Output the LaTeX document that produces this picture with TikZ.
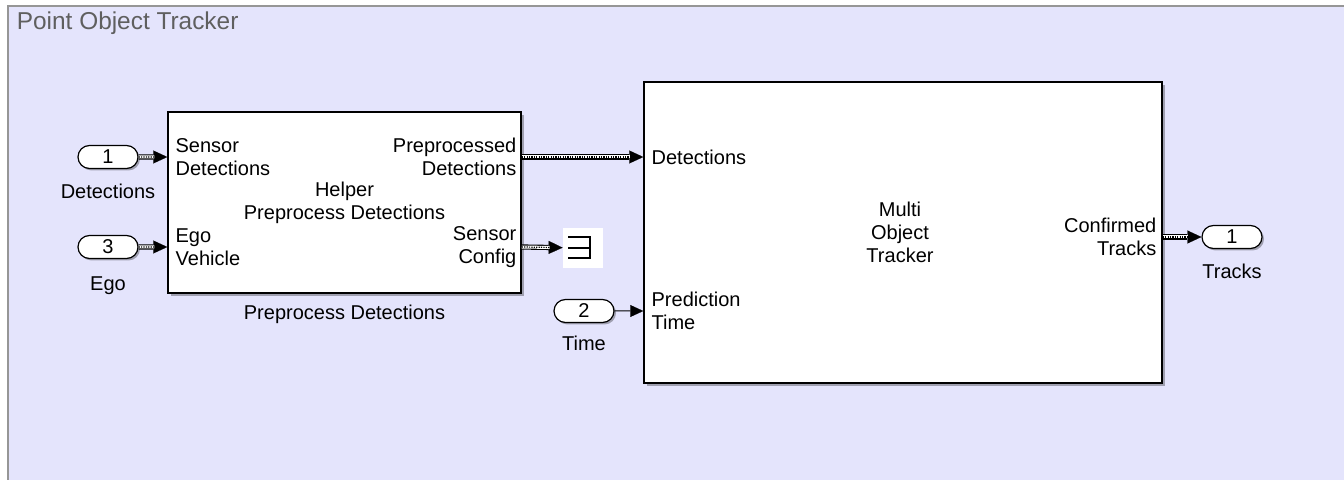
\documentclass[tikz,border=0pt]{standalone}
\usepackage{fontspec}
\setmainfont{Liberation Sans}
\usepackage{xcolor}
\usepackage{tikz}
\usetikzlibrary{arrows.meta, positioning, calc, shapes.misc, shadows}
\definecolor{fundo}{RGB}{228,228,252}
\definecolor{borda}{RGB}{150,150,150}
\definecolor{titulo}{RGB}{95,95,95}

\begin{document}
\begin{tikzpicture}[x=0.5pt, y=-0.5pt,
        every node/.style={align=center, inner sep=0pt, font=\fontsize{10}{11.5}\selectfont},
        bloco/.style={draw, fill=white, line width=0.75pt, drop shadow={shadow xshift=1.5pt, shadow yshift=-1.5pt, fill=black, opacity=0.3}},
        porta/.style={draw, fill=white, rounded rectangle, minimum width=30pt, minimum height=11.5pt, line width=0.6pt, drop shadow={shadow xshift=1pt, shadow yshift=-1pt, fill=black, opacity=0.3}},
        seta/.style={-{Triangle[length=6.5pt, width=6pt, line width=0.1pt]}, line width=0.5pt},
        barra/.style={-{Triangle[length=7pt, width=6.5pt, line width=0.1pt]}, line width=2.6pt,
            postaction={draw=white, -, line width=1.5pt, shorten >=6.5pt},
            postaction={draw=black, -, line width=0.6pt, dash pattern=on 0.6pt off 0.6pt, shorten >=6.5pt}}
    ]
        \useasboundingbox (0,0) rectangle (1344,480);
        \clip (0,0) rectangle (1344,480);
        \fill[white] (0,0) rectangle (1344,480);
        \draw[draw=borda, fill=fundo, line width=1.2pt] (8,6) rectangle (1370,500);
        \node[anchor=west, text=titulo, font=\fontsize{12.2}{14}\selectfont] (titulo) at (16.5,23) {Point Object Tracker};

        \node[bloco, minimum width=176.5pt, minimum height=90.5pt] (pre) at (344.5,202.5) {};
        \node[bloco, minimum width=259pt, minimum height=150.5pt] (mot) at (903,232.5) {};

        \node[porta] (in1) at (108,157) {1};
        \node[porta] (in3) at (108,247) {3};
        \node[porta] (in2) at (584,311) {2};
        \node[porta] (out1) at (1232,237) {1};
        \node[below=7.5pt of in1] (nome_in1) {Detections};
        \node[below=8.5pt of in3] (nome_in3) {Ego};
        \node[below=6.5pt of in2] (nome_in2) {Time};
        \node[below=7.5pt of out1] (nome_out1) {Tracks};
        \node[below=5.5pt of pre] (nome_pre) {Preprocess Detections};

        \node[anchor=west, align=left] (pre_in1) at ([xshift=4pt]pre.west |- in1) {Sensor\\Detections};
        \node[anchor=west, align=left] (pre_in2) at ([xshift=4pt]pre.west |- in3) {Ego\\Vehicle};
        \node[anchor=east, align=right] (pre_out1) at ([xshift=-2.5pt]pre.east |- in1) {Preprocessed\\Detections};
        \node[anchor=east, align=right] (pre_out2) at ([xshift=-2.5pt]pre.east |- in3) {Sensor\\Config};
        \node (pre_txt) at (pre.center) {Helper\\Preprocess Detections};

        \node[anchor=west] (mot_in1) at ([xshift=4pt]mot.west |- in1) {Detections};
        \node[anchor=west, align=left] (mot_in2) at ([xshift=4pt]mot.west |- in2) {Prediction\\Time};
        \node[anchor=east, align=right] (mot_out1) at ([xshift=-3pt]mot.east |- out1) {Confirmed\\Tracks};
        \node (mot_txt) at ([xshift=-1.5pt]mot.center) {Multi\\Object\\Tracker};

        \node[fill=white, minimum size=20pt] (term) at (583,248) {};
        \draw[line width=0.6pt] ([xshift=-7.5pt, yshift=5.5pt]term.center) -| ([xshift=3.5pt, yshift=-5pt]term.center) -- ++(-11pt,0);
        \draw[line width=0.6pt] ([xshift=-7.5pt]term.center) -- ([xshift=3.5pt]term.center);

        \draw[barra] (in1) -- (in1 -| pre.west);
        \draw[barra] (in3) -- (in3 -| pre.west);
        \draw[barra] (pre.east |- in1) -- (mot.west |- in1);
        \draw[barra] (pre.east |- in3) -- (term);
        \draw[seta] (in2) -- (in2 -| mot.west);
        \draw[barra] (mot.east |- out1) -- (out1);
    \end{tikzpicture}
\end{document}
